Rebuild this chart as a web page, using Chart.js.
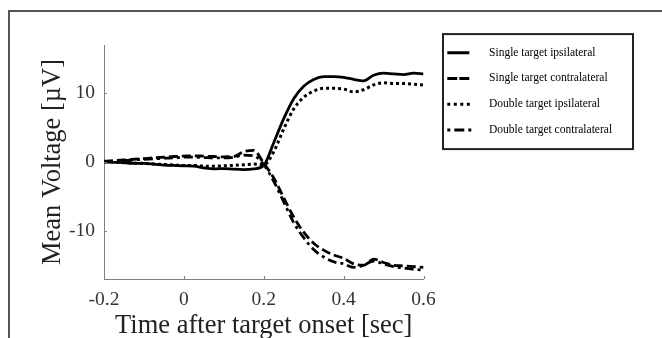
<!DOCTYPE html>
<html>
<head>
<meta charset="utf-8">
<script src="https://cdn.jsdelivr.net/npm/chart.js@4.4.1/dist/chart.umd.min.js"></script>
<style>
  html, body { margin: 0; padding: 0; background: #fff; overflow: hidden; }
  #wrap { position: relative; width: 662px; height: 338px; }
  #frame { position: absolute; left: 8px; top: 10px; right: -10px; bottom: -10px; border-left: 2px solid #555; border-top: 2px solid #555; }
  canvas { position: absolute; left: 0; top: 0; }
</style>
</head>
<body>
<div id="wrap"><div id="frame"></div><canvas id="erpChart" width="662" height="338"></canvas></div>
<script>
// time axis (sec)
const times = [-0.2, -0.175, -0.15, -0.125, -0.1, -0.075, -0.05, -0.025, 0, 0.025, 0.05, 0.075, 0.1,
  0.125, 0.15, 0.175, 0.2, 0.225, 0.25, 0.275, 0.3, 0.325, 0.35, 0.375, 0.4, 0.425, 0.45,
  0.475, 0.5, 0.525, 0.55, 0.575, 0.6];

// mean voltage (µV) per condition
const singleIpsi = [0.0, -0.05, -0.1, -0.2, -0.2, -0.3, -0.45, -0.5, -0.55, -0.6, -0.85, -1.0, -0.95,
  -1.05, -1.1, -1.0, -0.5, 2.8, 6.3, 9.2, 11.0, 12.0, 12.4, 12.4, 12.3, 12.0, 11.8,
  12.6, 12.9, 12.8, 12.7, 12.9, 12.8];
const singleContra = [0.1, 0.2, 0.3, 0.4, 0.5, 0.6, 0.7, 0.8, 0.85, 0.9, 0.85, 0.8, 0.75,
  0.8, 1.5, 1.7, -0.2, -2.3, -5.2, -8.0, -10.2, -11.8, -12.8, -13.5, -14.0, -14.8, -15.0,
  -14.1, -14.6, -15.0, -15.1, -15.2, -15.3];
const doubleIpsi = [0.1, 0.0, -0.1, -0.15, -0.2, -0.3, -0.35, -0.45, -0.5, -0.5, -0.6, -0.6, -0.55,
  -0.5, -0.4, -0.3, -0.4, 1.5, 4.8, 7.7, 9.4, 10.3, 10.7, 10.7, 10.6, 10.2, 10.5,
  11.2, 11.5, 11.4, 11.4, 11.3, 11.2];
const doubleContra = [0.0, 0.1, 0.2, 0.3, 0.4, 0.45, 0.55, 0.6, 0.7, 0.7, 0.65, 0.6, 0.6,
  0.7, 1.0, 0.9, -0.4, -2.8, -5.8, -8.8, -11.0, -12.7, -13.8, -14.5, -14.8, -15.3, -15.0,
  -14.4, -14.8, -15.2, -15.4, -15.6, -15.7];

const seriesNames = ['Single target ipsilateral', 'Single target contralateral',
  'Double target ipsilateral', 'Double target contralateral'];

const xTicks = [-0.2, 0, 0.2, 0.4, 0.6];
const xTickLabels = ['-0.2', '0', '0.2', '0.4', '0.6'];
const yTicks = [-10, 0, 10];
const yTickLabels = ['-10', '0', '10'];

const serif = '"Liberation Serif", "Times New Roman", serif';
const axisGray = '#808080';

// line styles in plot / legend samples
const plotDash = [[], [9, 4], [3, 3], [9, 4, 3, 4]];
const legendDash = [[22, 60], [10, 2, 10, 60], [3, 3.5, 3, 3.5, 3, 3.5, 3, 60], [3, 4, 10, 4, 3, 60]];

function toPoints(vals) {
  return vals.map((v, i) => ({ x: times[i], y: v }));
}

const allSeries = [singleIpsi, singleContra, doubleIpsi, doubleContra];

// moves legend to the right side, draws its frame and the small inward ticks
const extras = {
  id: 'extras',
  afterLayout(chart) {
    const lg = chart.legend;
    const w = lg.width, h = lg.height;
    lg.left = 433;
    lg.top = 32.6;
    lg.right = lg.left + w;
    lg.bottom = lg.top + h;
  },
  afterDraw(chart) {
    const ctx = chart.ctx;
    const lg = chart.legend;
    const xs = chart.scales.x, ys = chart.scales.y;
    const area = chart.chartArea;
    ctx.save();
    ctx.strokeStyle = '#222';
    ctx.lineWidth = 2;
    ctx.strokeRect(lg.left + 10, lg.top + 1.5, 190, 115);

    ctx.strokeStyle = axisGray;
    ctx.lineWidth = 1;
    ctx.beginPath();
    xTicks.forEach(v => {
      const px = Math.round(xs.getPixelForValue(v)) + 0.5;
      ctx.moveTo(px, area.bottom);
      ctx.lineTo(px, area.bottom - 3);
    });
    yTicks.forEach(v => {
      const py = Math.round(ys.getPixelForValue(v)) + 0.5;
      ctx.moveTo(area.left, py);
      ctx.lineTo(area.left + 3, py);
    });
    ctx.stroke();
    ctx.restore();
  }
};

const ctx = document.getElementById('erpChart').getContext('2d');

new Chart(ctx, {
  type: 'line',
  data: {
    datasets: allSeries.map((vals, i) => ({
      label: seriesNames[i],
      data: toPoints(vals),
      borderColor: '#000',
      backgroundColor: '#000',
      borderWidth: i === 2 ? 3 : 2.8,
      borderDash: plotDash[i],
      pointRadius: 0,
      fill: false,
      cubicInterpolationMode: 'monotone'
    }))
  },
  options: {
    responsive: false,
    devicePixelRatio: 1,
    animation: false,
    layout: { padding: { top: 45, right: 238.5, left: 0, bottom: 0 } },
    plugins: {
      tooltip: { enabled: false },
      legend: {
        position: 'chartArea',
        align: 'start',
        labels: {
          usePointStyle: true,
          pointStyle: 'line',
          pointStyleWidth: 36,
          padding: 14.3,
          color: '#000',
          font: { family: serif, size: 11.5 },
          generateLabels(chart) {
            return chart.data.datasets.map((ds, i) => ({
              text: ds.label,
              datasetIndex: i,
              fillStyle: '#000',
              strokeStyle: '#000',
              lineWidth: 3,
              lineDash: legendDash[i],
              lineCap: 'butt',
              pointStyle: 'line',
              hidden: false
            }));
          }
        }
      }
    },
    scales: {
      x: {
        type: 'linear',
        min: -0.2,
        max: 0.6,
        afterBuildTicks(scale) { scale.ticks = xTicks.map(v => ({ value: v })); },
        afterFit(scale) { scale.height = 59; },
        ticks: {
          padding: 9,
          color: '#333',
          font: { family: serif, size: 19.5 },
          maxRotation: 0,
          autoSkip: false,
          callback: (v, i) => xTickLabels[i]
        },
        grid: { drawOnChartArea: false, drawTicks: false },
        border: { color: axisGray, width: 1 },
        title: {
          display: true,
          text: 'Time after target onset [sec]',
          color: '#222',
          font: { family: serif, size: 26.5, lineHeight: 0.9 },
          padding: 0
        }
      },
      y: {
        min: -17,
        max: 17,
        afterBuildTicks(scale) { scale.ticks = yTicks.map(v => ({ value: v })); },
        afterFit(scale) { scale.width = 104; },
        ticks: {
          padding: 9,
          color: '#333',
          font: { family: serif, size: 19.5 },
          callback: (v, i) => yTickLabels[i]
        },
        grid: { drawOnChartArea: false, drawTicks: false },
        border: { color: axisGray, width: 1 },
        title: {
          display: true,
          text: 'Mean Voltage [µV]',
          color: '#222',
          font: { family: serif, size: 26.5, lineHeight: 1.2 },
          padding: { top: 37, bottom: 0 }
        }
      }
    }
  },
  plugins: [extras]
});
</script>
</body>
</html>
